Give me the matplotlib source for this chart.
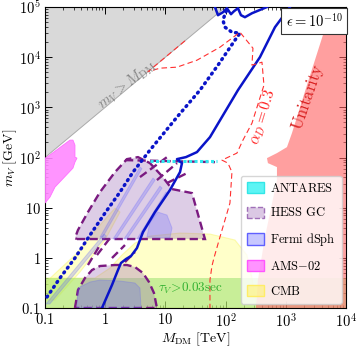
import numpy as np
import matplotlib
matplotlib.use('Agg')
import matplotlib.pyplot as plt
from matplotlib.patches import Patch
from matplotlib.ticker import FixedLocator, FixedFormatter, LogLocator, NullFormatter

plt.rcParams['mathtext.fontset'] = 'cm'
plt.rcParams['font.family'] = 'serif'
plt.rcParams['font.serif'] = ['cmr10', 'DejaVu Serif']
plt.rcParams['axes.formatter.use_mathtext'] = True

# ---------------- data (log10 M_DM [TeV], log10 m_V [GeV]) ----------------
xticks = [0.1, 1, 10, 100, 1e3, 1e4]
xticklabels = [r'$0.1$', r'$1$', r'$10$', r'$10^2$', r'$10^3$', r'$10^4$']
yticks = [0.1, 1, 10, 100, 1e3, 1e4, 1e5]
yticklabels = [r'$0.1$', r'$1$', r'$10$', r'$10^2$', r'$10^3$', r'$10^4$', r'$10^5$']

# kinematic boundary m_V = M_DM
gray_M = [0.1, 100.0]
gray_mV = [100.0, 1e5]

# unitarity region (left boundary, then closed on the right edge)
unit_lx = [3.767, 3.601, 3.352, 3.103, 3.020, 2.854, 2.688, 2.704, 2.854, 2.854, 2.654, 2.538, 2.505, 4.0, 4.0]
unit_ly = [5.0, 4.378, 3.442, 2.486, 2.207, 2.088, 1.988, 1.888, 1.809, 1.550, 0.414, -0.442, -1.0, -1.0, 5.0]

# AMS-02
ams_lx = [-1.0, -0.967, -0.585, -0.535, -0.502, -0.502, -0.468, -0.502, -0.535, -0.834, -0.917, -1.0]
ams_ly = [1.988, 2.008, 2.347, 2.347, 2.247, 2.008, 1.988, 1.908, 1.789, 1.410, 1.211, 1.092]

# CMB
cmb1_lx = [-1.0, 2.522, 2.439, 2.355, 2.156, 1.741, 1.243, 0.744, 0.495, 0.279, 0.080, -0.169, -1.0]
cmb1_ly = [-1.0, -1.0, -0.402, 0.056, 0.355, 0.474, 0.494, 0.434, 0.295, 0.056, -0.203, -0.402, -0.402]
cmb2_lx = [-1.0, -0.502, -0.086, 0.163, 0.246, -0.003, -0.419, -0.834, -1.0]
cmb2_ly = [-0.502, 0.056, 0.653, 0.992, 0.912, 0.355, -0.283, -0.841, -0.841]

# lifetime band tau_V > 0.03 s
tau_mV = [0.1, 0.4]

# HESS GC
hess1_lx = [-0.468, 1.658, 1.442, 1.110, 0.944, 0.744, 0.545, 0.362, 0.163, -0.086, -0.286, -0.452, -0.502]
hess1_ly = [0.375, 0.375, 1.291, 1.371, 1.629, 1.888, 2.008, 1.968, 1.709, 1.311, 0.912, 0.554, 0.394]
hess2_lx = [-0.502, -0.452, -0.336, -0.219, -0.086, 0.163, 0.362, 0.495, 0.628, 0.728, 0.811, 0.860]
hess2_ly = [-1.0, -0.641, -0.402, -0.243, -0.163, -0.143, -0.143, -0.183, -0.303, -0.482, -0.701, -1.0]
hess_seg_lx = [[0.578, 1.027], [0.860, 1.193], [1.027, 1.359], [0.329, 1.824],
               [-0.286, -0.086], [-0.136, 0.080], [0.113, 0.329], [0.329, 0.495]]
hess_seg_ly = [[1.610, 2.008], [1.550, 1.888], [1.490, 1.689], [1.948, 1.908],
               [-0.143, 0.255], [0.056, 0.394], [-0.004, 0.255], [-0.084, 0.116]]

# Fermi dSph
fermi_lx = [
    [-0.468, -0.452, -0.252, -0.086, 0.246, 0.495, 0.578, 0.595],
    [-0.983, -0.020, 0.020, -0.920],
    [-0.086, 0.578, 0.610, -0.040],
    [0.130, 0.794, 0.830, 0.180],
    [0.312, 0.910, 0.945, 0.362],
    [0.528, 1.010, 1.045, 0.578],
    [0.694, 0.744, 0.877, 1.027, 1.110, 1.076],
]
fermi_ly = [
    [-1.0, -0.602, -0.482, -0.442, -0.462, -0.502, -0.602, -1.0],
    [-0.920, 0.474, 0.434, -0.920],
    [0.414, 1.809, 1.779, 0.414],
    [0.375, 1.590, 1.550, 0.375],
    [0.375, 1.430, 1.390, 0.375],
    [0.375, 1.311, 1.281, 0.375],
    [0.414, 0.713, 0.912, 0.853, 0.594, 0.394],
]

# ANTARES
antares_lx = [0.75, 1.86]
antares_ly = [1.93, 1.93]

# blue solid contour
solid_lx = [-0.053, 0.113, 0.213, 0.262, 0.346, 0.429, 0.528, 0.628, 0.827, 1.076, 1.243, 1.276,
            1.193, 1.342, 1.525, 1.741, 2.206, 2.571, 2.821, 3.070]
solid_ly = [-1.0, -0.542, -0.243, -0.104, -0.024, 0.036, 0.195, 0.514, 0.912, 1.351, 1.709, 1.888,
            1.968, 2.008, 2.108, 2.406, 3.343, 4.0, 4.598, 5.0]
solid2_lx = [1.824, 1.874, 1.957, 2.023, 2.090, 2.140, 2.206, 2.256, 2.322, 2.439, 2.688]
solid2_ly = [5.0, 4.837, 4.896, 4.976, 4.857, 4.916, 4.976, 4.837, 4.797, 4.876, 5.0]

# blue dotted contour
dot_lx = [-0.967, -0.751, -0.502, -0.252, -0.003, 0.246, 0.462, 0.744, 1.193, 1.575, 1.874, 2.156,
          2.239, 2.106, 1.990, 1.957, 1.990, 2.040]
dot_ly = [-0.781, -0.402, -0.004, 0.454, 0.892, 1.311, 1.709, 2.147, 2.805, 3.343, 3.841, 4.339,
          4.478, 4.498, 4.598, 4.737, 4.857, 5.0]

# alpha_D = 0.3 contour
aD_lx = [1.326, 0.711, 0.910, 1.193, 1.525, 1.907, 2.239, 2.455, 2.439, 2.605, 2.638, 2.439, 2.289,
         2.189, 1.940, 2.040, 2.106, 2.073, 1.907, 1.807, 1.774, 1.741, 1.741]
aD_ly = [4.326, 3.711, 3.781, 3.801, 3.940, 4.199, 4.498, 4.179, 3.841, 3.900, 3.442, 2.685, 2.347,
         2.088, 1.948, 1.888, 1.709, 1.092, 0.414, -0.004, -0.163, -0.442, -1.0]


def P(a):
    return 10.0 ** np.asarray(a)


fig = plt.figure(figsize=(3.57, 3.51), dpi=100)
ax = fig.add_axes([0.126, 0.1225, 0.843, 0.8575])
ax.set_xscale('log')
ax.set_yscale('log')
ax.set_xlim(0.1, 1e4)
ax.set_ylim(0.1, 1e5)

# gray kinematic region
ax.fill_between(gray_M, gray_mV, [1e5, 1e5], facecolor='#d9d9d9', edgecolor='none', zorder=1)
ax.plot(gray_M, gray_mV, color='#aaaaaa', lw=0.7, zorder=1.1)

# CMB
for lx, ly in [(cmb1_lx, cmb1_ly), (cmb2_lx, cmb2_ly)]:
    ax.fill(P(lx), P(ly), facecolor='#ffff66', alpha=0.35, edgecolor='#f4f040', lw=0.8, zorder=2)

# tau band
ax.axhspan(tau_mV[0], tau_mV[1], facecolor='#9be070', alpha=0.55, edgecolor='none', zorder=2.2)

# unitarity
ax.fill(P(unit_lx), P(unit_ly), facecolor='#ff6060', alpha=0.6, edgecolor='none', zorder=2.5)

# HESS
for lx, ly in [(hess1_lx, hess1_ly), (hess2_lx, hess2_ly)]:
    ax.fill(P(lx), P(ly), facecolor='#a070b8', alpha=0.35, edgecolor='none', zorder=3)
    ax.fill(P(lx), P(ly), facecolor='none', edgecolor='#7a1a80', lw=1.7,
            linestyle=(0, (3.5, 1.8)), zorder=3.1)
for lx, ly in zip(hess_seg_lx, hess_seg_ly):
    ax.plot(P(lx), P(ly), color='#7a1a80', lw=1.7, linestyle=(0, (3.5, 1.8)), zorder=3.1)

# Fermi
for lx, ly in zip(fermi_lx, fermi_ly):
    ax.fill(P(lx), P(ly), facecolor='#6060ff', alpha=0.25, edgecolor='#5a5aff', lw=0.7, zorder=3.3)

# AMS-02
ax.fill(P(ams_lx), P(ams_ly), facecolor='#ff88ff', alpha=0.9, edgecolor='#ff66ff', lw=0.6, zorder=3.4)

# ANTARES
ax.plot(P(antares_lx), P(antares_ly), color='#30e8f0', lw=2.2, linestyle=(0, (1, 0.8)), zorder=3.6)

# blue contours
ax.plot(P(solid_lx), P(solid_ly), color='#0a14c8', lw=1.8, zorder=4)
ax.plot(P(solid2_lx), P(solid2_ly), color='#0a14c8', lw=1.8, zorder=4)
ax.plot(P(dot_lx), P(dot_ly), color='#0a14c8', lw=2.5, linestyle=(0, (0.3, 1.4)),
        dash_capstyle='round', zorder=4)

# alpha_D contour
ax.plot(P(aD_lx), P(aD_ly), color='#ff3030', lw=0.8, linestyle=(0, (5, 3)), zorder=4.2)

# texts
ax.text(P(0.362), P(3.442), r'$m_V > M_{\rm DM}$', color='#858585', fontsize=10.5,
        rotation=38, ha='center', va='center', zorder=5)
ax.text(P(3.369), P(3.203), r'$\mathrm{Unitarity}$', color='#d82020', fontsize=12,
        rotation=71, ha='center', va='center', zorder=5)
ax.text(P(2.621), P(2.805), r'$\alpha_D = 0.3$', color='#ff2020', fontsize=11,
        rotation=73, ha='center', va='center', zorder=5)
ax.text(P(1.409), P(-0.602), r'$\tau_V\!>\!0.03\mathrm{sec}$', color='#30b030', fontsize=9.5,
        ha='center', va='center', zorder=5)
ax.text(0.99, 0.983, r'$\epsilon = 10^{-10}$', transform=ax.transAxes, fontsize=10.5,
        ha='right', va='top', zorder=6,
        bbox=dict(boxstyle='square,pad=0.3', facecolor='white', edgecolor='#333333', lw=0.8))

# ticks
ax.xaxis.set_major_locator(FixedLocator(xticks))
ax.xaxis.set_major_formatter(FixedFormatter(xticklabels))
ax.yaxis.set_major_locator(FixedLocator(yticks))
ax.yaxis.set_major_formatter(FixedFormatter(yticklabels))
ax.xaxis.set_minor_locator(LogLocator(base=10, subs=np.arange(2, 10)))
ax.yaxis.set_minor_locator(LogLocator(base=10, subs=np.arange(2, 10)))
ax.xaxis.set_minor_formatter(NullFormatter())
ax.yaxis.set_minor_formatter(NullFormatter())
ax.tick_params(which='both', direction='in', top=True, right=True, labelsize=10.5)
ax.tick_params(which='major', length=5, width=0.7, pad=3)
ax.tick_params(which='minor', length=2.5, width=0.5)
for s in ax.spines.values():
    s.set_linewidth(0.8)

ax.set_xlabel(r'$M_{\rm DM}\ [\mathrm{TeV}]$', fontsize=10, labelpad=0)
ax.set_ylabel(r'$m_V\ [\mathrm{GeV}]$', fontsize=10, labelpad=0)

handles = [
    Patch(facecolor=(0.2, 0.95, 0.95, 0.8), edgecolor=(0.2, 0.9, 0.9), label=r'$\mathrm{ANTARES}$'),
    Patch(facecolor=(0.63, 0.44, 0.72, 0.38), edgecolor='#a070b8', linestyle='--', lw=1.0,
          label=r'$\mathrm{HESS\ GC}$'),
    Patch(facecolor=(0.38, 0.38, 1.0, 0.35), edgecolor='#6060ff', label=r'$\mathrm{Fermi\ dSph}$'),
    Patch(facecolor=(1.0, 0.4, 1.0, 0.7), edgecolor='#ff55ff', label=r'$\mathrm{AMS{-}02}$'),
    Patch(facecolor=(1.0, 0.95, 0.45, 0.6), edgecolor=(1.0, 0.93, 0.4), label=r'$\mathrm{CMB}$'),
]
leg = ax.legend(handles=handles, loc='lower right', fontsize=9, frameon=True, fancybox=True,
                framealpha=0.8, edgecolor='#cccccc', handlelength=1.4, handleheight=1.0,
                labelspacing=0.95, borderpad=0.45, handletextpad=0.5, borderaxespad=0.35)
leg.set_zorder(7)

fig.savefig('out.png', dpi=100)
